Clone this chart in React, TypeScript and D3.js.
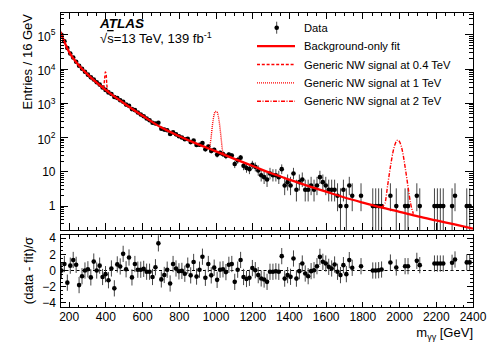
import React, { useRef, useEffect } from 'react';
import * as d3 from 'd3';

// binning of the diphoton mass spectrum
const massMin = 150;
const massMax = 2400;
const binWidth = 16;

// events per 16 GeV bin (0 = empty bin)
const counts = [
  102000, 65800, 41590, 28700, 21890, 16590, 12600, 10330, 8470, 6942,
  5785, 5017, 4170, 3556, 2926, 2487, 2104, 1881, 1541, 1438,
  1237, 1122, 925, 850, 683, 638, 544, 476, 421, 364,
  321, 272, 258, 273, 182, 172, 164, 128, 143, 125,
  110, 101, 90, 92, 74, 82, 61, 62, 70, 46,
  55, 41, 44, 32, 36, 33, 29, 32, 30, 17,
  22, 26, 15, 13, 12, 16, 14, 11, 8, 7,
  6, 9, 8, 8, 7, 12, 4, 5, 4, 9,
  3, 5, 6, 3, 3, 4, 3, 4, 7, 5,
  4, 3, 3, 3, 2, 1, 3, 1, 4, 2,
  0, 0, 2, 0, 0, 0, 1, 1, 1, 1,
  0, 0, 2, 0, 1, 0, 0, 1, 1, 0,
  0, 2, 1, 0, 0, 0, 0, 1, 1, 1,
  1, 0, 0, 1, 2, 0, 0, 0, 1, 1,
];

// (data - fit)/sigma per bin (null = empty bin)
const pulls = [
  0, 0.8, -1.5, 0.6, 1.3, 0.7, -1.8, -0.7, 0, 0.15,
  -0.85, 1.1, 0, 0.6, -0.8, -0.45, -1.2, 0.25, -2.2, 0.75,
  0.5, 2.05, 0.15, 1.6, -0.85, 0.8, 0.1, 0.1, 0.2, -0.15,
  -0.15, -0.8, 0.4, 3.35, -1.1, -0.55, 0.1, -1.6, 0.8, 0.25,
  -0.1, -0.05, -0.4, 0.6, -0.6, 1.05, -0.75, 0.1, 1.7, -0.9,
  0.8, -0.6, 0.35, -1.15, 0.1, 0.15, -0.2, 0.7, 0.8, -1.4,
  0.1, 1.3, -0.8, -1.05, -0.9, 0.3, 0.04, -0.57, -0.98, -1.11,
  -1.4, -0.16, -0.16, -0.1, -0.16, 1.77, -1.0, -0.57, -0.78, 1.48,
  -1.0, -0.08, 0.86, -0.37, -0.7, -0.08, 0.04, 0.53, 1.68, 1.07,
  0.86, 0.45, 0.25, 0.74, -0.16, -0.57, 0.66, -0.45, 1.28, 0.33,
  null, null, 0.53, null, null, null, 0, 0, 0.04, 0.12,
  null, null, 0.98, null, 0.37, null, null, 0.53, 0.53, null,
  null, 1.19, 0.66, null, null, null, null, 0.86, 0.86, 0.86,
  0.86, null, null, 0.95, 1.36, null, null, null, 1.0, 1.0,
];

// background-only fit, sampled
const fitMass = [150, 200, 250, 300, 400, 500, 600, 700, 800, 900, 1000, 1100, 1200,
  1300, 1400, 1500, 1600, 1700, 1800, 1900, 2000, 2100, 2200, 2300, 2400];
const fitValue = [129000, 31600, 13500, 7080, 2450, 1000, 437, 200, 110, 64.6, 39.8, 24.0, 14.8,
  9.1, 5.9, 3.9, 2.63, 1.78, 1.26, 0.91, 0.68, 0.5, 0.38, 0.29, 0.22];

// signal + background shapes around each peak
const sig04Mass = [382, 388, 393, 397, 401, 405, 410, 416];
const sig04Value = [2950, 3100, 5200, 8300, 7600, 3600, 2400, 2150];
const sig1Mass = [950, 962, 972, 980, 988, 996, 1004, 1012, 1020, 1028, 1036, 1046];
const sig1Value = [50.5, 48, 90, 220, 430, 580, 575, 440, 230, 95, 40, 31];
const sig2Mass = [1900, 1920, 1935, 1950, 1965, 1978, 1990, 2002, 2015, 2030, 2045, 2060, 2075];
const sig2Value = [0.92, 1.2, 4, 14, 40, 70, 85, 72, 42, 14, 4, 1.2, 0.6];

// Garwood 68% intervals for small counts
const garwoodLow = [0, 0.173, 0.708, 1.367, 2.086, 2.84, 3.62, 4.419, 5.232, 6.057, 6.891, 7.734, 8.585, 9.441, 10.3, 11.17, 12.04];
const garwoodHigh = [1.841, 3.3, 4.638, 5.918, 7.163, 8.382, 9.584, 10.77, 11.95, 13.11, 14.27, 15.42, 16.56, 17.7, 18.83, 19.96, 21.08];

const xTickLabels = [200, 400, 600, 800, 1000, 1200, 1400, 1600, 1800, 2000, 2200, 2400];
const yTopExponents = [0, 1, 2, 3, 4, 5];
const yBottomLabels = [-4, -2, 0, 2, 4];

const legendLabels = [
  'Data',
  'Background-only fit',
  'Generic NW signal at 0.4 TeV',
  'Generic NW signal at 1 TeV',
  'Generic NW signal at 2 TeV',
];

const FONT = 'Liberation Sans, Arial, Helvetica, sans-serif';
const RED = '#ff0000';

const App = () => {
  const svgRef = useRef<SVGSVGElement>(null);

  useEffect(() => {
    const svg = d3.select(svgRef.current);
    svg.selectAll('*').remove();

    const left = 60, right = 473;
    const topT = 12, botT = 230, topB = 234, botB = 307;

    const x = d3.scaleLinear().domain([massMin, massMax]).range([left, right]);
    const yT = d3.scaleLog().domain([0.2, 4.7e5]).range([botT, topT]);
    const yB = d3.scaleLinear().domain([-4.5, 4.5]).range([botB, topB]);

    const defs = svg.append('defs');
    defs.append('clipPath').attr('id', 'clipTop')
      .append('rect').attr('x', left).attr('y', topT).attr('width', right - left).attr('height', botT - topT);
    defs.append('clipPath').attr('id', 'clipBot')
      .append('rect').attr('x', left).attr('y', topB).attr('width', right - left).attr('height', botB - topB);

    const bins = counts.map((n, i) => ({
      m: massMin + binWidth * (i + 0.5),
      n,
      p: pulls[i],
    }));

    // ---- upper panel ----
    const top = svg.append('g').attr('clip-path', 'url(#clipTop)');
    const filled = bins.filter(d => d.n > 0);

    top.selectAll('.err')
      .data(filled)
      .join('line')
      .attr('x1', d => x(d.m)).attr('x2', d => x(d.m))
      .attr('y1', d => yT(Math.max(0.01, d.n < garwoodLow.length ? garwoodLow[d.n] : d.n - Math.sqrt(d.n))))
      .attr('y2', d => yT(d.n < garwoodHigh.length ? garwoodHigh[d.n] : d.n + Math.sqrt(d.n)))
      .attr('stroke', '#444')
      .attr('stroke-width', 1);

    top.selectAll('.dot')
      .data(filled)
      .join('circle')
      .attr('cx', d => x(d.m))
      .attr('cy', d => yT(d.n))
      .attr('r', 2.3)
      .attr('fill', '#000');

    const line = d3.line<[number, number]>()
      .x(d => x(d[0]))
      .y(d => yT(d[1]))
      .curve(d3.curveMonotoneX);

    const signals = [
      { mass: sig04Mass, value: sig04Value, dash: '3,1.8' },
      { mass: sig1Mass, value: sig1Value, dash: '1,1' },
      { mass: sig2Mass, value: sig2Value, dash: '4,1.5,1,1.5' },
    ];
    signals.forEach(s => {
      top.append('path')
        .attr('d', line(s.mass.map((m, i) => [m, s.value[i]] as [number, number])))
        .attr('fill', 'none')
        .attr('stroke', RED)
        .attr('stroke-width', 1.4)
        .attr('stroke-dasharray', s.dash);
    });

    top.append('path')
      .attr('d', line(fitMass.map((m, i) => [m, fitValue[i]] as [number, number])))
      .attr('fill', 'none')
      .attr('stroke', RED)
      .attr('stroke-width', 2.3);

    // ---- lower panel ----
    const bot = svg.append('g').attr('clip-path', 'url(#clipBot)');
    const withPull = bins.filter(d => d.p !== null);

    bot.append('line')
      .attr('x1', left).attr('x2', right)
      .attr('y1', yB(0)).attr('y2', yB(0))
      .attr('stroke', '#000')
      .attr('stroke-width', 1.2)
      .attr('stroke-dasharray', '3,2.5');

    bot.selectAll('.perr')
      .data(withPull)
      .join('line')
      .attr('x1', d => x(d.m)).attr('x2', d => x(d.m))
      .attr('y1', d => yB((d.p as number) - 1))
      .attr('y2', d => yB((d.p as number) + 1))
      .attr('stroke', '#444')
      .attr('stroke-width', 1);

    bot.selectAll('.pdot')
      .data(withPull)
      .join('circle')
      .attr('cx', d => x(d.m))
      .attr('cy', d => yB(d.p as number))
      .attr('r', 2.3)
      .attr('fill', '#000');

    // ---- frames and ticks ----
    const axes = svg.append('g')
      .attr('stroke', '#000')
      .attr('stroke-width', 1)
      .attr('shape-rendering', 'crispEdges');

    axes.append('rect')
      .attr('x', left).attr('y', topT).attr('width', right - left).attr('height', botT - topT)
      .attr('fill', 'none');
    axes.append('rect')
      .attr('x', left).attr('y', topB).attr('width', right - left).attr('height', botB - topB)
      .attr('fill', 'none');

    const tick = (x1: number, y1: number, x2: number, y2: number) =>
      axes.append('line').attr('x1', x1).attr('y1', y1).attr('x2', x2).attr('y2', y2);

    d3.range(massMin, massMax + 1, 50).forEach(m => {
      const major = m % 200 === 0;
      const px = x(m);
      const lt = major ? 7 : 3.5;
      const lb = major ? 5 : 2.5;
      tick(px, botT, px, botT - lt);
      tick(px, topT, px, topT + lt);
      tick(px, botB, px, botB - lb);
      tick(px, topB, px, topB + lb);
    });

    d3.range(-1, 6).forEach(e => {
      d3.range(1, 10).forEach(k => {
        const v = k * Math.pow(10, e);
        if (v < 0.2 || v > 4.7e5) return;
        const py = yT(v);
        const len = k === 1 ? 8 : 4;
        tick(left, py, left + len, py);
        tick(right, py, right - len, py);
      });
    });

    d3.range(-4, 4.01, 0.5).forEach(v => {
      const py = yB(v);
      const len = v % 2 === 0 ? 6 : 3;
      tick(left, py, left + len, py);
      tick(right, py, right - len, py);
    });

    // ---- tick labels ----
    const labels = svg.append('g')
      .attr('font-family', FONT)
      .attr('fill', '#000');

    labels.selectAll('.xl')
      .data(xTickLabels)
      .join('text')
      .attr('x', d => x(d))
      .attr('y', 321)
      .attr('text-anchor', 'middle')
      .attr('font-size', 12)
      .text(d => String(d));

    yTopExponents.forEach(e => {
      const t = labels.append('text')
        .attr('x', 55.5)
        .attr('y', yT(Math.pow(10, e)) + (e > 1 ? 6 : 4.3))
        .attr('text-anchor', 'end')
        .attr('font-size', 12);
      if (e === 0) t.text('1');
      else if (e === 1) t.text('10');
      else {
        t.append('tspan').text('10');
        t.append('tspan').attr('dy', -5.5).attr('font-size', 8.5).text(String(e));
      }
    });

    labels.selectAll('.yl')
      .data(yBottomLabels)
      .join('text')
      .attr('x', 56)
      .attr('y', d => yB(d) + 4.3)
      .attr('text-anchor', 'end')
      .attr('font-size', 12)
      .text(d => (d < 0 ? '\u2212' + Math.abs(d) : String(d)));

    // ---- axis titles ----
    labels.append('text')
      .attr('transform', 'translate(31.5,14) rotate(-90)')
      .attr('text-anchor', 'end')
      .attr('font-size', 13)
      .text('Entries / 16 GeV');

    labels.append('text')
      .attr('transform', `translate(32.5,${(topB + botB) / 2}) rotate(-90)`)
      .attr('text-anchor', 'middle')
      .attr('font-size', 13)
      .text('(data - fit)/\u03c3');

    const xt = labels.append('text')
      .attr('x', right)
      .attr('y', 337)
      .attr('text-anchor', 'end')
      .attr('font-size', 13);
    xt.append('tspan').text('m');
    xt.append('tspan').attr('dy', 3).attr('font-size', 9).text('\u03b3\u03b3');
    xt.append('tspan').attr('dy', -3).text(' [GeV]');

    // ---- ATLAS label ----
    labels.append('text')
      .attr('x', 100).attr('y', 28)
      .attr('font-size', 13.5)
      .attr('font-weight', 'bold')
      .attr('font-style', 'italic')
      .text('ATLAS');

    const lumi = labels.append('text')
      .attr('x', 100).attr('y', 43)
      .attr('font-size', 13);
    lumi.append('tspan').text('\u221a');
    lumi.append('tspan').style('text-decoration', 'overline').text('s');
    lumi.append('tspan').text('=13 TeV, 139 fb');
    lumi.append('tspan').attr('dy', -5).attr('font-size', 9).text('-1');

    // ---- legend ----
    const legend = svg.append('g');
    const rowY = (i: number) => 27.7 + i * 18.4;
    legendLabels.forEach((label, i) => {
      legend.append('text')
        .attr('x', 304)
        .attr('y', rowY(i) + 4)
        .attr('font-family', FONT)
        .attr('font-size', 11.2)
        .text(label);
    });
    legend.append('line')
      .attr('x1', 276.7).attr('x2', 276.7)
      .attr('y1', rowY(0) - 6).attr('y2', rowY(0) + 6)
      .attr('stroke', '#444').attr('stroke-width', 1);
    legend.append('circle')
      .attr('cx', 276.7).attr('cy', rowY(0)).attr('r', 2.3).attr('fill', '#000');
    legend.append('line')
      .attr('x1', 257).attr('x2', 295)
      .attr('y1', rowY(1)).attr('y2', rowY(1))
      .attr('stroke', RED).attr('stroke-width', 2.3);
    signals.forEach((s, i) => {
      legend.append('line')
        .attr('x1', 257).attr('x2', 295)
        .attr('y1', rowY(i + 2)).attr('y2', rowY(i + 2))
        .attr('stroke', RED).attr('stroke-width', 1.4)
        .attr('stroke-dasharray', s.dash);
    });
  }, []);

  return (
    <svg
      ref={svgRef}
      width={498}
      height={358}
      style={{ position: 'absolute', left: 0, top: 0, background: '#fff' }}
    />
  );
};

export default App;
